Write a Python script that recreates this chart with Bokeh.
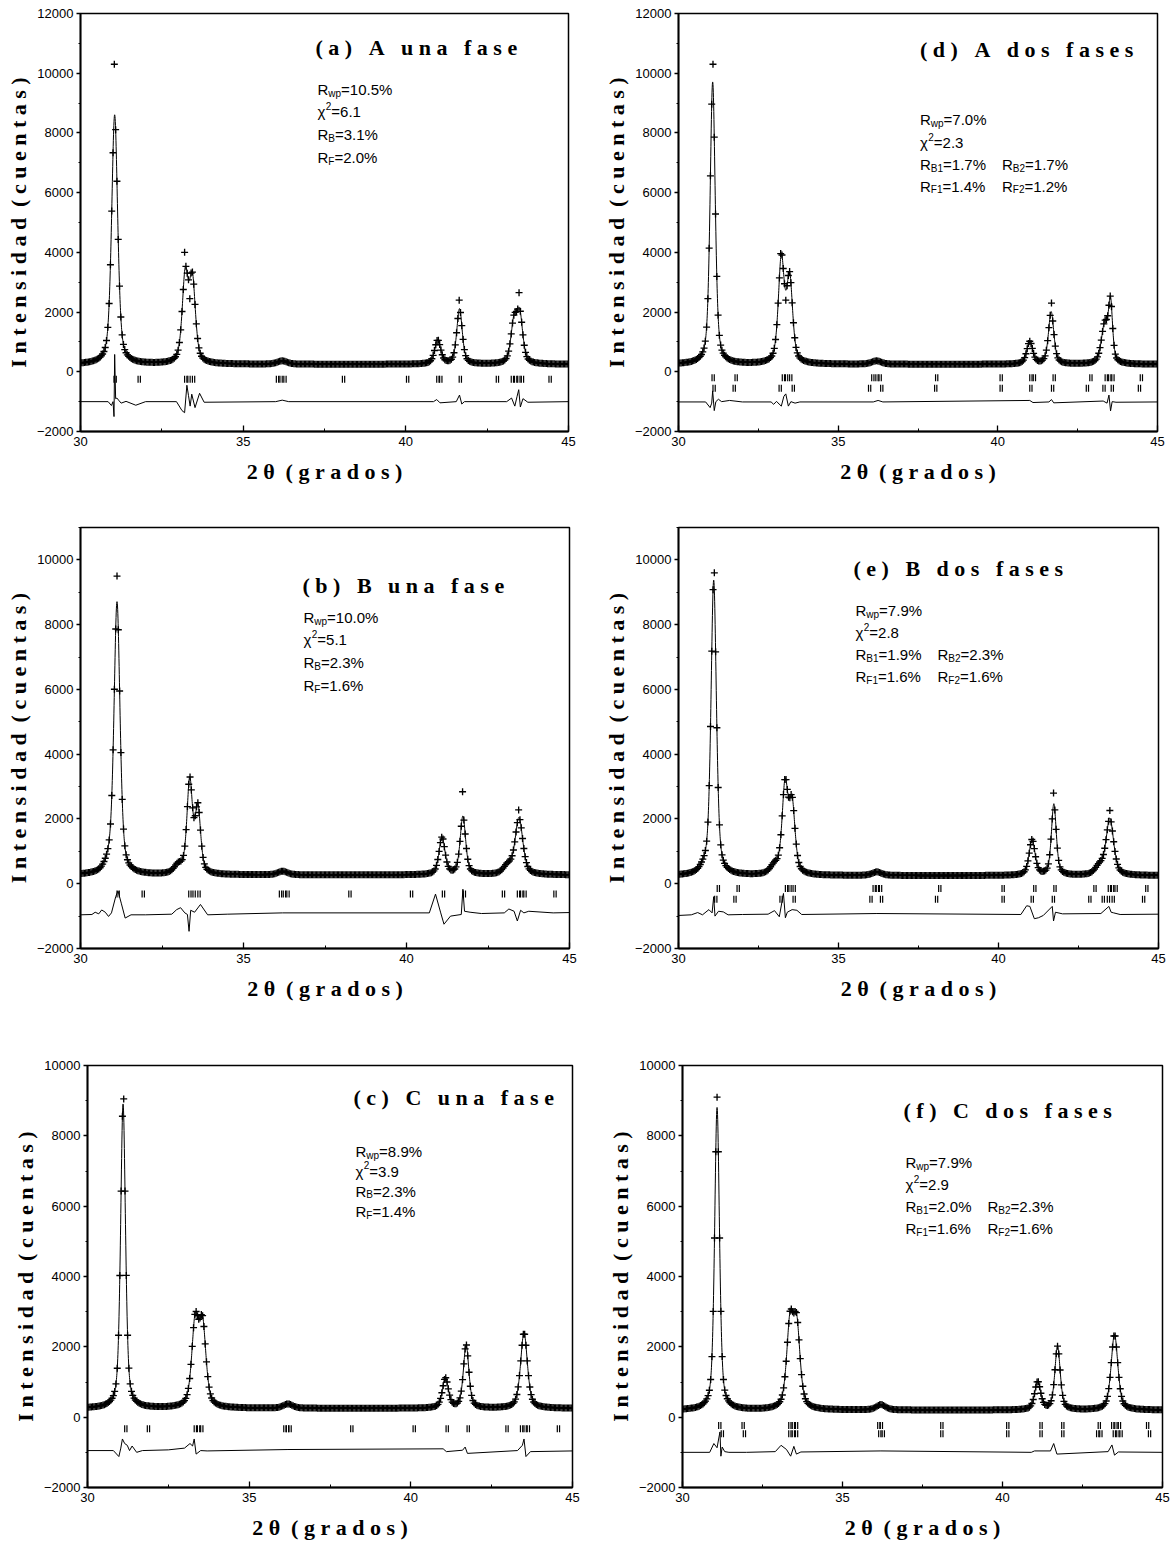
import numpy as np
from bokeh.plotting import figure
from bokeh.layouts import row, column
from bokeh.models import ColumnDataSource, FixedTicker
from bokeh.transform import dodge
from bokeh.core.properties import value
from bokeh.embed import file_html
from bokeh.resources import INLINE

# ---------------- (a) A, una fase ----------------
a_title = "(a) A una fase"
a_bg = 250
a_pos = [31.05, 33.22, 33.44, 36.20, 40.98, 41.65, 43.32, 43.50]
a_int = [8350, 2900, 2700, 110, 800, 1850, 1300, 1600]
a_fwhm = [0.22, 0.22, 0.22, 0.35, 0.22, 0.20, 0.22, 0.22]
a_obs_x = [31.05, 33.22, 33.37, 41.65, 43.47]
a_obs_y = [10300, 4000, 2450, 2400, 2650]
a_refl1 = [31.03, 31.77, 33.20, 33.30, 33.44, 36.02, 36.13, 36.25, 38.05, 40.02,
           40.95, 41.04, 41.64, 42.78, 43.24, 43.34, 43.44, 43.55, 44.40]
a_diff = [(30.00, -1000), (30.85, -1000), (30.95, -1130), (31.00, -1000), (31.03, -1500),
          (31.05, 580), (31.08, -900), (31.12, -880), (31.17, -950), (31.25, -1050),
          (31.40, -990), (31.70, -1120), (32.00, -1000), (32.95, -1000), (33.12, -1300),
          (33.20, -1370), (33.27, -450), (33.32, -800), (33.37, -1150), (33.42, -750),
          (33.52, -1200), (33.66, -720), (33.80, -1020), (36.00, -1000), (36.20, -950),
          (36.40, -1000), (40.85, -1000), (40.95, -930), (41.05, -1040), (41.55, -1000),
          (41.65, -780), (41.72, -1080), (41.80, -1000), (43.10, -1000), (43.25, -880),
          (43.35, -1150), (43.42, -820), (43.47, -600), (43.52, -1180), (43.60, -900),
          (43.75, -1020), (45.00, -1000)]
a_rwp, a_chi2, a_rb, a_rf = "10.5%", "6.1", ["3.1%"], ["2.0%"]

# ---------------- (b) B, una fase ----------------
b_title = "(b) B una fase"
b_bg = 270
b_pos = [30.85, 31.12, 33.00, 33.35, 33.60, 36.20, 41.09, 41.73, 43.10, 43.45]
b_int = [200, 8400, 250, 2850, 2000, 110, 1150, 1800, 250, 1750]
b_fwhm = [0.30, 0.22, 0.30, 0.20, 0.20, 0.35, 0.22, 0.20, 0.30, 0.28]
b_obs_x = [31.12, 41.73, 43.45]
b_obs_y = [9500, 2840, 2280]
b_refl1 = [31.12, 31.89, 33.32, 33.45, 33.60, 36.10, 36.22, 36.33, 38.23, 40.12,
           41.10, 41.74, 42.94, 43.40, 43.50, 43.60, 44.52]
b_diff = [(30.00, -960), (30.35, -950), (30.45, -880), (30.56, -930), (30.65, -810),
          (30.76, -880), (30.86, -1010), (30.95, -900), (31.08, -400), (31.15, -220),
          (31.25, -600), (31.37, -1060), (31.55, -960), (32.00, -960), (32.80, -940),
          (32.95, -800), (33.07, -740), (33.20, -900), (33.28, -950), (33.33, -1470),
          (33.38, -820), (33.50, -880), (33.68, -640), (33.90, -960), (34.50, -940),
          (36.20, -900), (40.70, -900), (40.89, -320), (41.05, -900), (41.15, -1250),
          (41.35, -1000), (41.68, -950), (41.73, -170), (41.78, -850), (41.95, -880),
          (42.30, -920), (43.00, -900), (43.14, -780), (43.30, -850), (43.40, -1150),
          (43.50, -820), (43.60, -900), (43.75, -850), (44.50, -900), (45.00, -890)]
b_rwp, b_chi2, b_rb, b_rf = "10.0%", "5.1", ["2.3%"], ["1.6%"]

# ---------------- (c) C, una fase ----------------
c_title = "(c) C una fase"
c_bg = 250
c_pos = [31.10, 33.33, 33.56, 36.20, 41.07, 41.71, 43.50]
c_int = [8650, 2350, 2250, 120, 850, 1800, 2150]
c_fwhm = [0.18, 0.25, 0.25, 0.35, 0.22, 0.20, 0.25]
c_obs_x = [31.10]
c_obs_y = [9050]
c_refl1 = [31.15, 31.85, 33.30, 33.40, 33.50, 36.07, 36.15, 36.23, 38.14, 40.07,
           41.09, 41.74, 42.94, 43.39, 43.50, 43.60, 44.53]
c_diff = [(30.00, -950), (30.80, -950), (30.97, -1120), (31.03, -880), (31.08, -620),
          (31.15, -750), (31.23, -800), (31.30, -950), (31.38, -820), (31.52, -1000),
          (31.70, -950), (32.50, -930), (33.00, -880), (33.17, -750), (33.25, -820),
          (33.30, -620), (33.36, -1050), (33.50, -950), (33.70, -960), (36.20, -920),
          (41.00, -900), (41.10, -980), (41.60, -940), (41.68, -850), (41.75, -1030),
          (43.30, -950), (43.45, -800), (43.50, -620), (43.56, -1120), (43.70, -980),
          (45.00, -960)]
c_rwp, c_chi2, c_rb, c_rf = "8.9%", "3.9", ["2.3%"], ["1.4%"]

# ---------------- (d) A, dos fases ----------------
d_title = "(d) A dos fases"
d_bg = 250
d_pos = [31.07, 33.22, 33.48, 36.20, 41.00, 41.67, 43.35, 43.53]
d_int = [9450, 3450, 2800, 110, 750, 1750, 1300, 1900]
d_fwhm = [0.19, 0.22, 0.22, 0.35, 0.22, 0.20, 0.25, 0.15]
d_obs_x = [31.07, 33.22, 33.37, 41.67]
d_obs_y = [10300, 3960, 2400, 2300]
d_refl1 = [31.05, 31.77, 33.25, 33.35, 33.48, 36.05, 36.18, 36.28, 38.05, 40.07,
           41.00, 41.11, 41.73, 42.88, 43.36, 43.47, 43.57, 44.46]
d_refl2 = [31.08, 31.71, 33.15, 33.56, 35.95, 36.33, 38.02, 40.07, 41.00, 41.68,
           42.77, 43.29, 43.55, 44.40]
d_diff = [(30.00, -1010), (30.85, -1010), (30.99, -1200), (31.04, -1050), (31.07, -640),
          (31.12, -1300), (31.17, -1000), (31.25, -920), (31.35, -1000), (31.60, -960),
          (32.00, -1010), (32.90, -1010), (32.98, -1090), (33.07, -990), (33.15, -1080),
          (33.22, -1150), (33.30, -820), (33.36, -740), (33.44, -1150), (33.52, -1000),
          (33.65, -1050), (33.80, -1010), (36.10, -1010), (36.25, -960), (36.40, -1010),
          (41.00, -960), (41.10, -1030), (41.60, -1010), (41.68, -930), (41.75, -1040),
          (43.30, -980), (43.42, -1050), (43.48, -780), (43.53, -1310), (43.58, -1000),
          (43.70, -1020), (45.00, -1010)]
d_rwp, d_chi2, d_rb, d_rf = "7.0%", "2.3", ["1.7%", "1.7%"], ["1.4%", "1.2%"]

# ---------------- (e) B, dos fases ----------------
e_title = "(e) B dos fases"
e_bg = 250
e_pos = [30.80, 31.10, 33.00, 33.33, 33.55, 36.20, 41.05, 41.73, 43.15, 43.48]
e_int = [150, 9100, 250, 2700, 2100, 110, 1100, 2200, 250, 1750]
e_fwhm = [0.30, 0.20, 0.30, 0.22, 0.22, 0.35, 0.22, 0.18, 0.30, 0.28]
e_obs_x = [31.10, 41.73, 43.48]
e_obs_y = [9600, 2800, 2260]
e_refl1 = [31.21, 31.83, 33.34, 33.45, 33.58, 36.08, 36.18, 36.28, 38.13, 40.11,
           41.10, 41.73, 42.98, 43.43, 43.53, 43.64, 44.60]
e_refl2 = [31.13, 31.73, 33.17, 33.58, 35.98, 36.31, 38.03, 40.11, 41.02, 41.68,
           42.82, 43.24, 43.40, 43.55, 44.50]
e_diff = [(30.00, -980), (30.40, -960), (30.60, -890), (30.75, -960), (30.95, -800),
          (31.05, -900), (31.10, -400), (31.14, -1000), (31.25, -850), (31.40, -870),
          (31.55, -960), (32.00, -950), (32.80, -940), (33.00, -830), (33.15, -1020),
          (33.28, -300), (33.34, -1050), (33.40, -880), (33.55, -800), (33.70, -820),
          (33.85, -950), (36.20, -920), (40.70, -950), (40.88, -680), (40.98, -700),
          (41.12, -1080), (41.25, -1050), (41.40, -980), (41.68, -700), (41.72, -1150),
          (41.78, -880), (42.00, -930), (43.20, -920), (43.45, -700), (43.52, -880),
          (43.60, -900), (43.80, -950), (45.00, -940)]
e_rwp, e_chi2, e_rb, e_rf = "7.9%", "2.8", ["1.9%", "2.3%"], ["1.6%", "1.6%"]

# ---------------- (f) C, dos fases ----------------
f_title = "(f) C dos fases"
f_bg = 200
f_pos = [31.08, 33.36, 33.57, 36.20, 41.10, 41.72, 43.50]
f_int = [8600, 2350, 2250, 150, 800, 1800, 2150]
f_fwhm = [0.18, 0.25, 0.25, 0.35, 0.22, 0.20, 0.25]
f_obs_x = [31.08]
f_obs_y = [9100]
f_refl1 = [31.13, 31.86, 33.32, 33.43, 33.53, 36.10, 36.18, 38.07, 40.13, 41.17,
           41.85, 42.99, 43.41, 43.51, 43.62, 44.50]
f_refl2 = [31.21, 31.90, 33.32, 33.43, 33.53, 36.13, 36.24, 38.07, 40.13, 41.17,
           41.85, 42.94, 43.04, 43.46, 43.57, 43.67, 44.56]
f_diff = [(30.00, -1000), (30.85, -1000), (30.98, -750), (31.08, -870), (31.17, -420),
          (31.20, -1110), (31.24, -850), (31.32, -980), (31.45, -1000), (32.00, -1000),
          (32.90, -980), (33.08, -800), (33.25, -920), (33.38, -1110), (33.48, -830),
          (33.56, -1050), (33.70, -990), (36.20, -960), (40.90, -1000), (41.00, -960),
          (41.50, -960), (41.60, -750), (41.70, -1050), (43.30, -980), (43.42, -790),
          (43.50, -1080), (43.62, -990), (45.00, -1000)]
f_rwp, f_chi2, f_rb, f_rf = "7.9%", "2.9", ["2.0%", "2.3%"], ["1.6%", "1.6%"]

TT_MIN, TT_MAX = 30.0, 45.0
SCAN_STEP = 0.04        # observed data step in 2theta
KA2_SPLIT = 0.07        # Ka1/Ka2 doublet separation drawn for each reflection

# page geometry of each panel (figure box, borders, frame-relative text anchors)
LAYOUT = {
    "a": dict(w=600, h=505, left=80, right=32, top=13, bottom=74, ymax=12000,
              refl_y=[-250], title=(235, 34), stats_x=237, stats_dy=[76, 98, 121, 144]),
    "d": dict(w=574, h=505, left=75, right=17, top=10, bottom=71, ymax=12000,
              refl_y=[-200, -550], title=(243, 37), stats_x=243, stats_dy=[108, 131, 153, 175]),
    "b": dict(w=600, h=535, left=80, right=31, top=18, bottom=85, ymax=11000,
              refl_y=[-320], title=(222, 60), stats_x=223, stats_dy=[92, 115, 139, 162]),
    "e": dict(w=574, h=535, left=78, right=16, top=22, bottom=92, ymax=11000,
              refl_y=[-150, -480], title=(175, 41), stats_x=177, stats_dy=[83, 105, 127, 149]),
    "c": dict(w=600, h=508, left=87, right=28, top=25, bottom=56, ymax=10000,
              refl_y=[-330], title=(266, 32), stats_x=268, stats_dy=[87, 107, 127, 148]),
    "f": dict(w=574, h=508, left=82, right=12, top=22, bottom=61, ymax=10000,
              refl_y=[-235, -470], title=(221, 45), stats_x=223, stats_dy=[98, 120, 142, 164]),
}

PANELS = {
    "a": (a_title, a_bg, a_pos, a_int, a_fwhm, a_obs_x, a_obs_y, [a_refl1], a_diff, a_rwp, a_chi2, a_rb, a_rf),
    "b": (b_title, b_bg, b_pos, b_int, b_fwhm, b_obs_x, b_obs_y, [b_refl1], b_diff, b_rwp, b_chi2, b_rb, b_rf),
    "c": (c_title, c_bg, c_pos, c_int, c_fwhm, c_obs_x, c_obs_y, [c_refl1], c_diff, c_rwp, c_chi2, c_rb, c_rf),
    "d": (d_title, d_bg, d_pos, d_int, d_fwhm, d_obs_x, d_obs_y, [d_refl1, d_refl2], d_diff, d_rwp, d_chi2, d_rb, d_rf),
    "e": (e_title, e_bg, e_pos, e_int, e_fwhm, e_obs_x, e_obs_y, [e_refl1, e_refl2], e_diff, e_rwp, e_chi2, e_rb, e_rf),
    "f": (f_title, f_bg, f_pos, f_int, f_fwhm, f_obs_x, f_obs_y, [f_refl1, f_refl2], f_diff, f_rwp, f_chi2, f_rb, f_rf),
}

NB = "\u00a0"
SERIF = "Liberation Serif"
SANS = "Liberation Sans"

# Arial / Liberation Sans advance widths (em) used to place sub/superscripts
ADV = {"R": .722, "w": .722, "p": .556, "=": .584, ".": .278, "%": .889,
       "B": .667, "F": .611, "\u03c7": .55}


def tracked(s, word_gap):
    return (NB * word_gap).join(NB.join(w) for w in s.split(" "))


def adv(s, px):
    return sum(ADV.get(ch, .556) for ch in s) * px


def pseudo_voigt(tt, bg, pos, inten, fwhm, eta=0.5):
    y = np.full(tt.shape, float(bg))
    for p0, h, w in zip(pos, inten, fwhm):
        u2 = ((tt - p0) / (w / 2.0)) ** 2
        y += h * (eta / (1.0 + u2) + (1.0 - eta) * np.exp(-np.log(2.0) * u2))
    return y


def build(key):
    (title, bg, pos, inten, fwhm, obs_x, obs_y, refl_rows, diff,
     rwp, chi2, rb, rf) = PANELS[key]
    L = LAYOUT[key]
    ymax = L["ymax"]
    fw = L["w"] - L["left"] - L["right"]
    fh = L["h"] - L["top"] - L["bottom"]
    cpp = (ymax + 2000) / fh          # counts per screen pixel

    def xd(px):
        return TT_MIN + px / fw * (TT_MAX - TT_MIN)

    def yd(py):
        return ymax - py * cpp

    p = figure(width=L["w"], height=L["h"], x_range=(TT_MIN, TT_MAX), y_range=(-2000, ymax),
               output_backend="svg", toolbar_location=None,
               min_border_left=L["left"], min_border_right=L["right"],
               min_border_top=L["top"], min_border_bottom=L["bottom"],
               background_fill_color="white", border_fill_color="white")
    p.xgrid.visible = False
    p.ygrid.visible = False
    p.outline_line_color = "black"
    p.outline_line_width = 1.5
    p.outline_line_alpha = 1.0

    p.xaxis.ticker = FixedTicker(ticks=[30, 35, 40, 45], minor_ticks=[32.5, 37.5, 42.5])
    p.yaxis.ticker = FixedTicker(ticks=list(range(-2000, ymax + 1, 2000)),
                                 minor_ticks=list(range(-1000, ymax + 1, 2000)))
    for ax in (p.xaxis[0], p.yaxis[0]):
        ax.axis_line_color = "black"
        ax.axis_line_width = 1.8
        ax.major_tick_line_color = "black"
        ax.minor_tick_line_color = "black"
        ax.major_tick_line_width = 1.3
        ax.minor_tick_line_width = 1.0
        ax.major_label_text_font = SANS
        ax.major_label_text_font_size = "13px"
        ax.major_label_text_color = "black"
        ax.axis_label_text_font = SERIF
        ax.axis_label_text_font_style = "bold"
        ax.axis_label_text_font_size = "22px"
        ax.axis_label_text_color = "black"
    p.xaxis.major_tick_in = 6
    p.xaxis.major_tick_out = 0
    p.xaxis.minor_tick_in = 3
    p.xaxis.minor_tick_out = 0
    p.xaxis.major_label_standoff = 5
    p.xaxis.axis_label_standoff = 10
    p.yaxis.major_tick_in = 0
    p.yaxis.major_tick_out = 4
    p.yaxis.minor_tick_in = 0
    p.yaxis.minor_tick_out = 2
    p.yaxis.major_label_standoff = 3
    p.yaxis.axis_label_standoff = 3
    p.xaxis.axis_label = tracked("2\u03b8 (grados)", 2)
    p.yaxis.axis_label = tracked("Intensidad (cuentas)", 2)

    # calculated profile
    tt = np.arange(TT_MIN, TT_MAX + 1e-9, 0.005)
    p.line(tt, pseudo_voigt(tt, bg, pos, inten, fwhm), line_color="black", line_width=1.0)

    # observed points on the scan grid, with the off-fit readings
    grid = np.round(np.arange(TT_MIN, TT_MAX + 1e-9, SCAN_STEP), 3)
    obs = pseudo_voigt(grid, bg, pos, inten, fwhm)
    for xo, yo in zip(obs_x, obs_y):
        obs[int(np.argmin(np.abs(grid - xo)))] = yo
    p.scatter(grid, obs, marker="cross", size=7, line_color="black", line_width=1.35)

    # Bragg reflection markers (one row per phase)
    for refl, yrow in zip(refl_rows, L["refl_y"]):
        src = ColumnDataSource(dict(x=refl, y=[yrow] * len(refl)))
        for shift in (0.0, KA2_SPLIT):
            p.scatter(x=dodge("x", shift, range=p.x_range), y="y", source=src,
                      marker="dash", angle=np.pi / 2, size=7,
                      line_color="black", line_width=1.2)

    # difference curve
    p.line([d[0] for d in diff], [d[1] for d in diff], line_color="black", line_width=1.0)

    # panel title
    tx, ty = L["title"]
    p.text(x=[xd(tx)], y=[yd(ty)], text=[tracked(title, 3)],
           text_font=value(SERIF), text_font_style="bold", text_font_size="22px",
           text_align="left", text_baseline="middle", text_color="black")

    # refinement agreement factors
    two = len(rb) > 1
    lines = [
        [[("R", 0), ("wp", -1), ("=" + rwp, 0)]],
        [[("\u03c7", 0), ("2", 1), ("=" + chi2, 0)]],
        [[("R", 0), ("B" + (str(i + 1) if two else ""), -1), ("=" + v, 0)] for i, v in enumerate(rb)],
        [[("R", 0), ("F" + (str(i + 1) if two else ""), -1), ("=" + v, 0)] for i, v in enumerate(rf)],
    ]
    big = dict(x=[], y=[], text=[], xo=[])
    small = dict(x=[], y=[], text=[], xo=[])
    x0 = xd(L["stats_x"])
    for li, groups in enumerate(lines):
        ybase = yd(L["stats_dy"][li])
        for gi, segs in enumerate(groups):
            off = gi * 82.0
            for s, shift in segs:
                if shift == 0:
                    big["x"].append(x0); big["y"].append(ybase)
                    big["text"].append(s); big["xo"].append(off)
                    off += adv(s, 15)
                else:
                    dy_px = -4 if shift < 0 else 6
                    small["x"].append(x0); small["y"].append(ybase + dy_px * cpp)
                    small["text"].append(s); small["xo"].append(off)
                    off += adv(s, 10)
    p.text(x="x", y="y", text="text", x_offset="xo", source=ColumnDataSource(big),
           text_font=value(SANS), text_font_size="15px", text_align="left",
           text_baseline="alphabetic", text_color="black")
    p.text(x="x", y="y", text="text", x_offset="xo", source=ColumnDataSource(small),
           text_font=value(SANS), text_font_size="10px", text_align="left",
           text_baseline="alphabetic", text_color="black")
    return p


page = column(row(build("a"), build("d")),
              row(build("b"), build("e")),
              row(build("c"), build("f")))

open("out.html", "w").write(file_html(page, INLINE))
